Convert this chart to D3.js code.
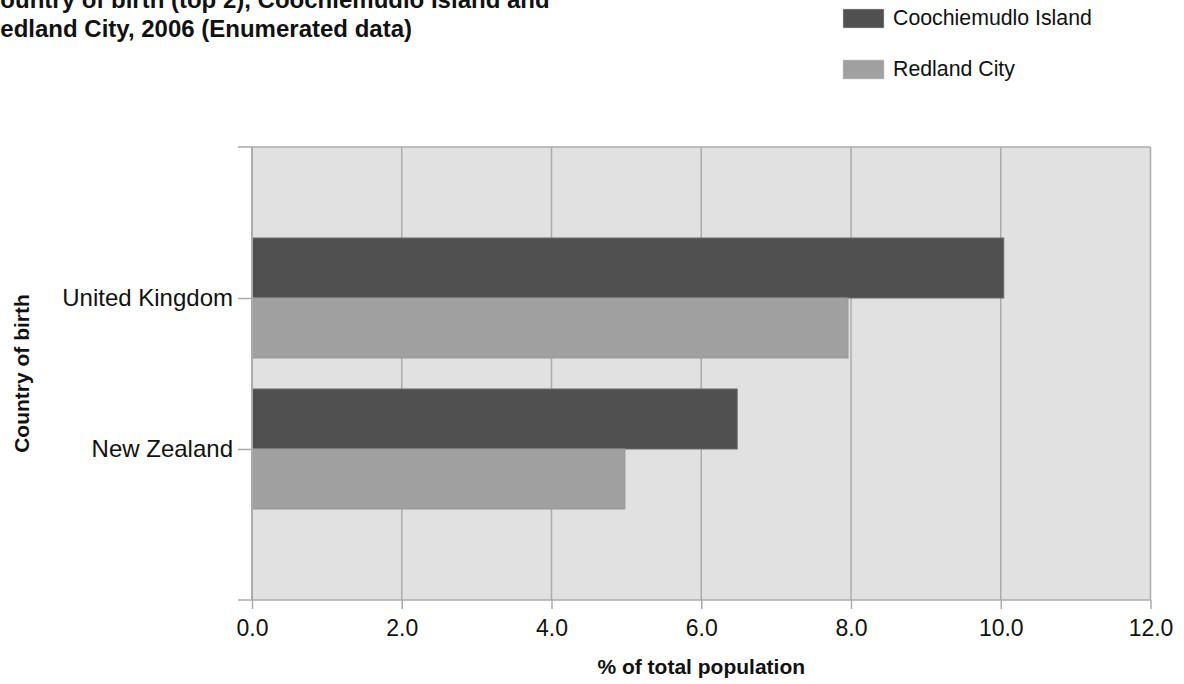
<!DOCTYPE html>
<html><head><meta charset="utf-8">
<script src="https://cdn.jsdelivr.net/npm/d3@7"></script>
<style>body{margin:0;background:#fff}svg{display:block;font-family:"Liberation Sans",Arial,sans-serif}</style>
</head><body>
<svg id="c" width="1184" height="684"></svg>
<script>
const categories = ["United Kingdom", "New Zealand"];
const seriesNames = ["Coochiemudlo Island", "Redland City"];
const coochiemudlo = [10.04, 6.48];
const redland = [7.96, 4.98];
const xTicks = [0, 2, 4, 6, 8, 10, 12];
const colors = ["#505050", "#a0a0a0"];

const svg = d3.select("#c");
const L = 252, R = 1150.5, T = 147, B = 600;
const x = d3.scaleLinear().domain([0, 12]).range([L, R]);
const y = d3.scalePoint().domain(categories).range([T, B]).padding(1);
const barH = 60;

svg.append("rect").attr("x", L).attr("y", T).attr("width", R - L).attr("height", B - T).attr("fill", "#e1e1e1");

// gridlines
svg.append("g").selectAll("line").data(xTicks).join("line")
  .attr("x1", d => x(d)).attr("x2", d => x(d)).attr("y1", T).attr("y2", B)
  .attr("stroke", "#ababab").attr("stroke-width", 1.5);
svg.append("line").attr("x1", 238).attr("x2", R).attr("y1", T).attr("y2", T).attr("stroke", "#ababab").attr("stroke-width", 1.5);

// bars
const data = categories.map((c, i) => [
  {c, s: 0, v: coochiemudlo[i]},
  {c, s: 1, v: redland[i]}
]).flat();
svg.append("g").selectAll("rect").data(data).join("rect")
  .attr("x", x(0)).attr("width", d => x(d.v) - x(0))
  .attr("y", d => y(d.c) - barH + d.s * barH).attr("height", barH)
  .attr("fill", d => colors[d.s]).attr("stroke", d => d.s === 0 ? "#6a6a6a" : "#999").attr("stroke-width", 1);

// x axis
const xa = svg.append("g").attr("transform", `translate(0,${B})`)
  .call(d3.axisBottom(x).tickValues(xTicks).tickFormat(d3.format(".1f")).tickSize(9).tickSizeOuter(0).tickPadding(11));
xa.select(".domain").remove();
xa.selectAll("line").attr("stroke", "#ababab").attr("stroke-width", 1.5);
xa.selectAll("text").attr("font-size", 23).attr("fill", "#111").attr("font-family", "Liberation Sans, Arial, sans-serif");
svg.append("line").attr("x1", 238).attr("x2", R).attr("y1", B).attr("y2", B).attr("stroke", "#ababab").attr("stroke-width", 1.5);

// y axis
const ya = svg.append("g").attr("transform", `translate(${L},0)`)
  .call(d3.axisLeft(y).tickSize(14).tickSizeOuter(0).tickPadding(5));
ya.select(".domain").remove();
ya.selectAll("line").attr("stroke", "#ababab").attr("stroke-width", 1.5);
ya.selectAll("text").attr("font-size", 24).attr("fill", "#111").attr("font-family", "Liberation Sans, Arial, sans-serif");
svg.append("line").attr("x1", L).attr("x2", L).attr("y1", T).attr("y2", B).attr("stroke", "#ababab").attr("stroke-width", 2);

// axis titles
svg.append("text").attr("x", (L + R) / 2).attr("y", 674).attr("text-anchor", "middle")
  .attr("font-size", 21).attr("font-weight", "bold").attr("fill", "#111").text("% of total population");
svg.append("text").attr("transform", `translate(29,${(T + B) / 2}) rotate(-90)`).attr("text-anchor", "middle")
  .attr("font-size", 21).attr("font-weight", "bold").attr("fill", "#111").text("Country of birth");

// title (clipped at top-left like the reference)
const title = svg.append("text").attr("font-size", 24).attr("font-weight", "bold").attr("fill", "#111");
title.append("tspan").attr("x", -17).attr("y", 8).text("Country of birth (top 2), Coochiemudlo Island and");
title.append("tspan").attr("x", -17).attr("y", 37).text("Redland City, 2006 (Enumerated data)");

// legend
const lg = svg.append("g").selectAll("g").data(seriesNames).join("g")
  .attr("transform", (d, i) => `translate(843,${9 + i * 51})`);
lg.append("rect").attr("width", 41).attr("height", 19).attr("fill", (d, i) => colors[i]).attr("stroke", "#ccc").attr("stroke-width", 0.5);
lg.append("text").attr("x", 50).attr("y", 16).attr("font-size", 21.3).attr("fill", "#111").text(d => d);
</script>
</body></html>
